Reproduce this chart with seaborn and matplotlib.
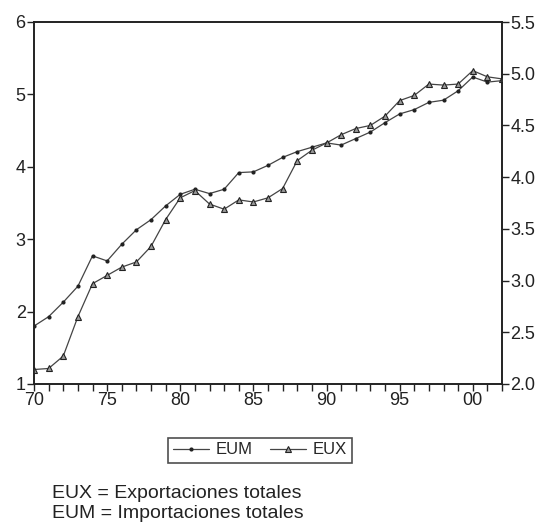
import matplotlib
matplotlib.use("Agg")
import matplotlib.pyplot as plt
import seaborn as sns
import pandas as pd
import numpy as np

sns.set_theme(style="white")
plt.rcParams['font.family'] = ['Liberation Sans', 'DejaVu Sans']

years = list(range(1970, 2003))
eum = [1.80, 1.93, 2.13, 2.35, 2.77, 2.70, 2.93, 3.13, 3.27, 3.46, 3.62,
       3.69, 3.63, 3.69, 3.92, 3.93, 4.02, 4.13, 4.21, 4.27, 4.33, 4.30,
       4.39, 4.48, 4.61, 4.73, 4.79, 4.89, 4.92, 5.05, 5.24, 5.17, 5.19]
eux = [2.14, 2.15, 2.27, 2.65, 2.97, 3.05, 3.13, 3.18, 3.33, 3.59, 3.80,
       3.87, 3.74, 3.69, 3.78, 3.76, 3.80, 3.89, 4.16, 4.26, 4.33, 4.41,
       4.47, 4.50, 4.59, 4.74, 4.79, 4.90, 4.89, 4.90, 5.03, 4.97, 4.95]
xtick_years = [1970, 1975, 1980, 1985, 1990, 1995, 2000]
xtick_labels = ["70", "75", "80", "85", "90", "95", "00"]
left_ticks = [1, 2, 3, 4, 5, 6]
right_ticks = [2.0, 2.5, 3.0, 3.5, 4.0, 4.5, 5.0, 5.5]
note_lines = ["EUX = Exportaciones totales", "EUM = Importaciones totales"]

df = pd.DataFrame({"year": years, "EUM": eum, "EUX": eux})

fig = plt.figure(figsize=(5.42, 5.25), dpi=100)
ax = fig.add_axes([34/542, 1-384/525, (502-34)/542, (384-22)/525])
ax2 = ax.twinx()

lc = "#444444"
sns.lineplot(data=df, x="year", y="EUM", ax=ax, color=lc, lw=0.9,
             marker="o", markersize=3, markeredgewidth=0, markerfacecolor="#222222",
             label="EUM", legend=False)
sns.lineplot(data=df, x="year", y="EUX", ax=ax2, color=lc, lw=0.9,
             marker="^", markersize=4, markerfacecolor="#999999",
             markeredgecolor="#222222", markeredgewidth=0.8, label="EUX", legend=False)

ax.set_xlim(1970, 2002)
ax.set_ylim(1, 6)
ax2.set_ylim(2.0, 5.5)
ax.set_xticks(xtick_years)
ax.set_xticklabels(xtick_labels)
ax.set_xticks(years, minor=True)
ax.set_yticks(left_ticks)
ax.set_yticklabels([str(t) for t in left_ticks])
ax2.set_yticks(right_ticks)
ax2.set_yticklabels([f"{t:.1f}" for t in right_ticks])
ax.set_xlabel("")
ax.set_ylabel("")
ax2.set_ylabel("")

for a in (ax, ax2):
    for s in a.spines.values():
        s.set_color("#222222")
        s.set_linewidth(1.2)
ax.tick_params(axis="both", which="major", direction="out", length=5, width=1,
               color="#222222", labelsize=13, labelcolor="#222222", pad=1,
               bottom=True, left=True)
ax.tick_params(axis="x", which="minor", direction="out", length=5, width=1,
               color="#222222", bottom=True)
ax2.tick_params(axis="y", which="major", direction="out", length=5, width=1,
                color="#222222", labelsize=13, labelcolor="#222222", pad=1, right=True)

h1, l1 = ax.get_legend_handles_labels()
h2, l2 = ax2.get_legend_handles_labels()
leg = fig.legend(h1 + h2, l1 + l2, loc="center", bbox_to_anchor=(260/542, 1-450/525),
                 ncol=2, frameon=True, fancybox=False, edgecolor="#222222",
                 fontsize=12, handlelength=2.2, handletextpad=0.4, columnspacing=1.0,
                 borderpad=0.3)
leg.get_frame().set_linewidth(1.2)

fig.text(52/542, 1-494/525, note_lines[0], fontsize=14, color="#222222", va="center")
fig.text(52/542, 1-513/525, note_lines[1], fontsize=14, color="#222222", va="center")

fig.savefig("out.png", dpi=100)
